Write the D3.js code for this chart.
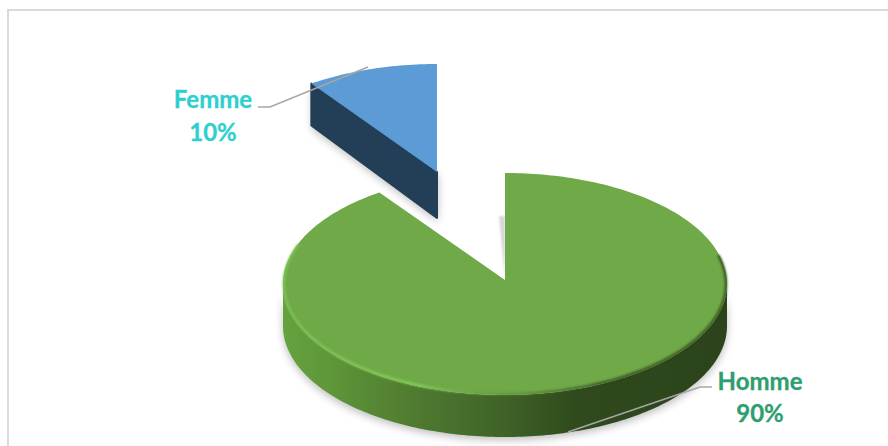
<!DOCTYPE html>
<html>
<head>
<meta charset="utf-8">
<script src="https://cdn.jsdelivr.net/npm/d3@7"></script>
<style>
html,body{margin:0;padding:0;background:#fff;overflow:hidden;}
svg{display:block;}
text{font-family:Lato,"Open Sans",sans-serif;font-weight:700;font-size:24px;text-anchor:middle;stroke-width:0.3px;}
</style>
</head>
<body>
<script>
// Gender split shown as an exploded pseudo-3D pie
const categories = ["Homme", "Femme"];
const shares = [90, 10];
const labelColours = ["#2f9e6f", "#2fcfcf"];
const topColours = ["#6fa948", "#5b9bd5"];

const W = 888, H = 446;
const svg = d3.select("body").append("svg").attr("width", W).attr("height", H);
const defs = svg.append("defs");

// Chart frame: its right and bottom sides run off the page
svg.append("rect").attr("x", 8).attr("y", 10).attr("width", 900).attr("height", 460)
  .attr("fill", "#fff").attr("stroke", "#dadada").attr("stroke-width", 2);

// Tilted-disc projection, with slight foreshortening of the far side
const rx = 222, ry = 111, depth = 42;
const arcs = d3.pie().sort(null).value(d => d)(shares);
const centres = [{x: 505, y: 284}, {x: 437, y: 175}];

const foreshorten = a => a - 0.028 * Math.sin(2 * a);
const project = (c, a, inset = 0) => {
  const t = foreshorten(a);
  return [c.x + (rx - inset) * Math.sin(t), c.y - (ry - inset) * Math.cos(t)];
};
const line = d3.line();

function sweep(a0, a1) {
  const n = Math.max(2, Math.ceil(Math.abs(a1 - a0) / 0.02));
  return d3.range(n + 1).map(i => a0 + (a1 - a0) * i / n);
}

// Filters and gradients
const blur = (id, sd) => defs.append("filter").attr("id", id)
  .attr("x", "-30%").attr("y", "-30%").attr("width", "160%").attr("height", "160%")
  .append("feGaussianBlur").attr("stdDeviation", sd);
blur("soft", 4);
blur("edge", 1.1);
blur("crisp", 0.5);

const wall = defs.append("linearGradient").attr("id", "wall")
  .attr("gradientUnits", "userSpaceOnUse")
  .attr("x1", 283).attr("x2", 727).attr("y1", 0).attr("y2", 0);
[[0, "#65a23f"], [0.1, "#5f9739"], [0.3, "#4f7a30"], [0.5, "#3f6228"], [0.66, "#2f4a1c"], [1, "#2c431b"]]
  .forEach(([o, c]) => wall.append("stop").attr("offset", o).attr("stop-color", c));

const bevel = defs.append("linearGradient").attr("id", "bevel")
  .attr("gradientUnits", "userSpaceOnUse")
  .attr("x1", 283).attr("x2", 727).attr("y1", 0).attr("y2", 0);
[[0, "#7cc152", 1], [0.3, "#86cf5a", 1], [0.5, "#5f8f3c", 0.6], [0.72, "#2c431b", 0.85], [1, "#2c431b", 0.85]]
  .forEach(([o, c, a]) => bevel.append("stop").attr("offset", o).attr("stop-color", c).attr("stop-opacity", a));

// Femme slice, pulled away from the disc
{
  const c = centres[1], a = arcs[1];
  const rim = sweep(a.startAngle, a.endAngle).map(t => project(c, t));
  const apex = [c.x, c.y - 3];
  const outer = rim[0];
  const wallPts = [apex, outer, [outer[0], outer[1] + depth], [apex[0], apex[1] + depth + 4]];
  svg.append("path").attr("d", line(wallPts.map(([x, y]) => [x + 1, y + 4])) + "Z")
    .attr("fill", "#000").attr("opacity", 0.25).attr("filter", "url(#soft)");
  svg.append("path").attr("d", line(wallPts) + "Z").attr("fill", "#233f57")
    .attr("stroke", "#233f57").attr("stroke-linejoin", "round").attr("stroke-width", 2);
  svg.append("path").attr("d", line([apex, ...rim]) + "Z").attr("fill", topColours[1])
    .attr("filter", "url(#crisp)");
}

// Homme slice
{
  const c = centres[0], a = arcs[0];
  const rim = sweep(a.startAngle, a.endAngle).map(t => project(c, t));
  const front = sweep(Math.PI / 2, 3 * Math.PI / 2).map(t => project(c, t));
  const body = front.concat(front.slice().reverse().map(([x, y]) => [x, y + depth]));
  const apex = [c.x, c.y - 4];

  // Soft ground shadow and the faint shadow thrown along the upright cut
  svg.append("path").attr("d", line(body.map(([x, y]) => [x, y + 3])) + "Z")
    .attr("fill", "#000").attr("opacity", 0.26).attr("filter", "url(#soft)");
  svg.append("path").attr("d", line([[c.x - 6, c.y - 68], [c.x, c.y - 68], apex]) + "Z")
    .attr("fill", "#000").attr("opacity", 0.16).attr("filter", "url(#edge)");

  svg.append("path").attr("d", line(body) + "Z").attr("fill", "url(#wall)");
  svg.append("path").attr("d", line([apex, ...rim]) + "Z").attr("fill", topColours[0]);
  // Bevel along the rim, slightly inside the top face
  svg.append("path").attr("d", line(sweep(Math.PI / 2 - 0.25, 3 * Math.PI / 2 + 0.35).map(t => project(c, t, 1))))
    .attr("fill", "none").attr("stroke", "url(#bevel)").attr("stroke-width", 2.5).attr("filter", "url(#edge)");
}

// Leader lines
const leaders = [
  [[712, 387], [700, 387], [568, 432]],
  [[258, 107], [270, 107], [368, 67]]
];
leaders.forEach(pts => svg.append("path").attr("d", line(pts))
  .attr("fill", "none").attr("stroke", "#a6a6a6").attr("stroke-width", 1.5));

// Category and percentage labels
const labelPos = [[760, 389.5, 422], [213, 108, 141]];
categories.forEach((name, i) => {
  const [x, y1, y2] = labelPos[i];
  svg.append("text").attr("x", x).attr("y", y1).attr("fill", labelColours[i]).attr("stroke", labelColours[i]).text(name);
  svg.append("text").attr("x", x).attr("y", y2).attr("fill", labelColours[i]).attr("stroke", labelColours[i]).text(shares[i] + "%");
});
</script>
</body>
</html>
